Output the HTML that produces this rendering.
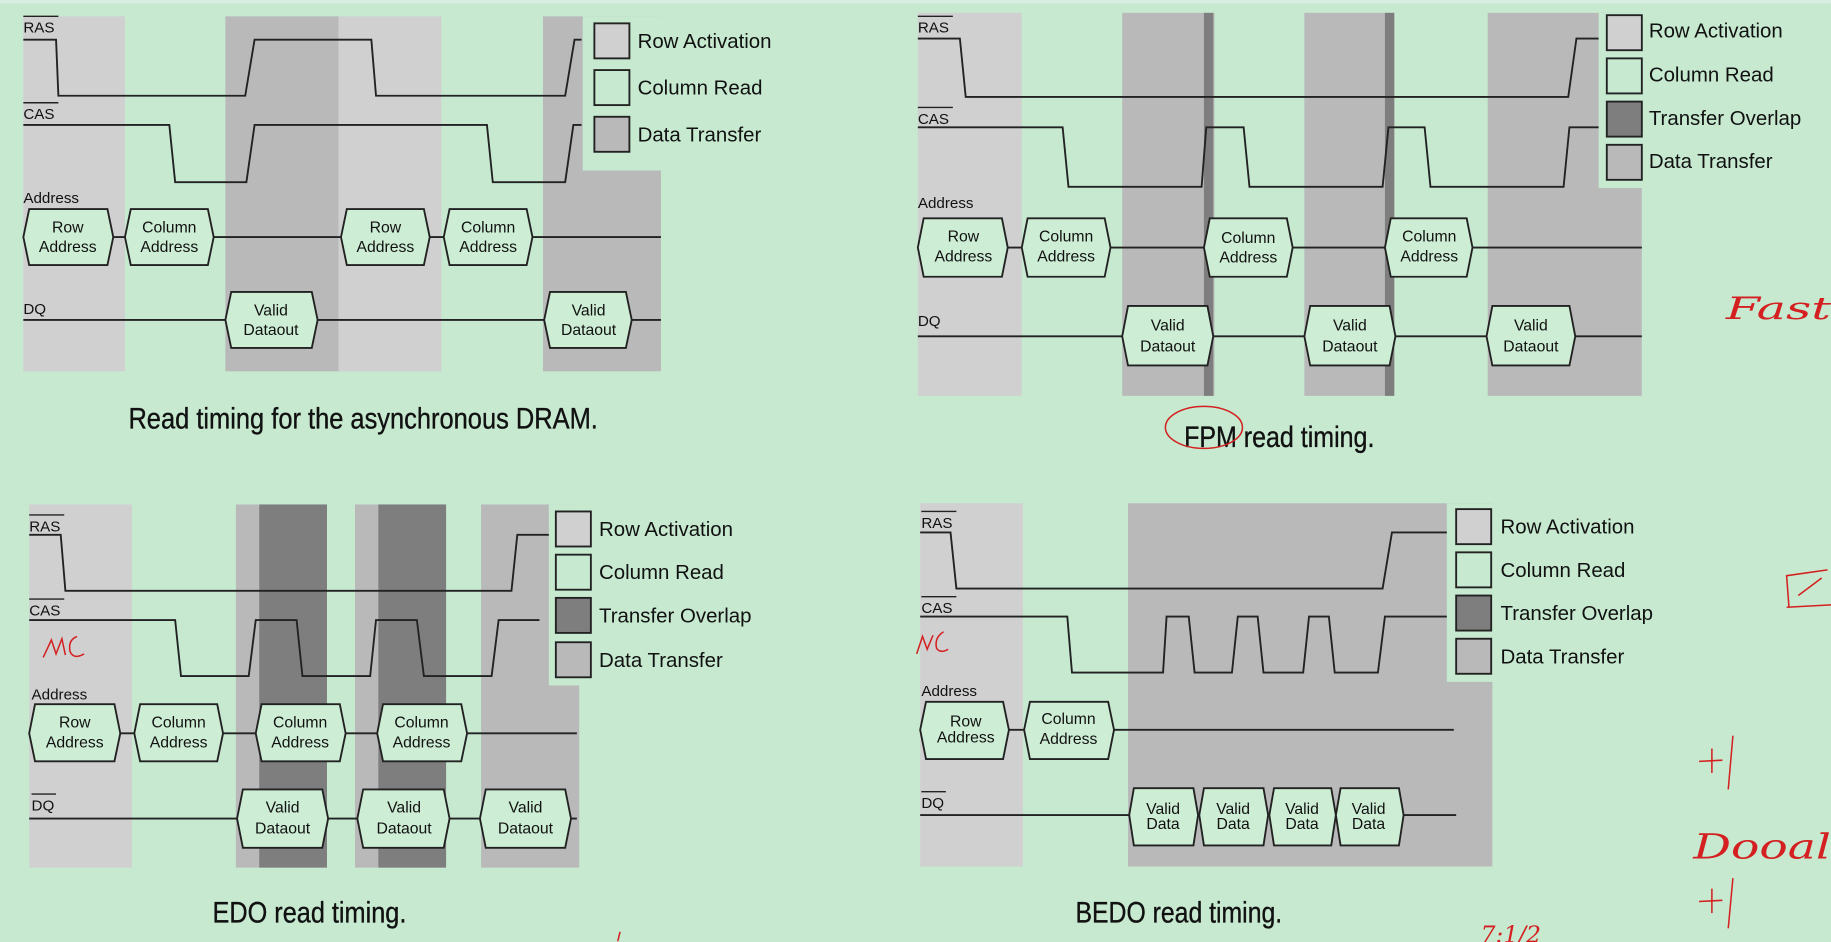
<!DOCTYPE html>
<html><head><meta charset="utf-8"><style>
html,body{margin:0;padding:0;background:#c6e9d0;}
svg{display:block}
text{font-family:"Liberation Sans",sans-serif;fill:#111}
.sig{font-size:13px}
.hx{font-size:13.5px;text-anchor:middle}
.lg{font-size:17.5px}
.cap{font-size:25px;stroke:#111;stroke-width:0.3}
.w{fill:none;stroke:#222;stroke-width:1.6}
.h{fill:#cdeed5;stroke:#222;stroke-width:1.6}
.la{fill:#d0d0d0}.da{fill:#b9b9b9}.ov{fill:#7e7e7e}
.box{stroke:#222;stroke-width:1.6}
.red{fill:none;stroke:#d42020;stroke-width:1.3}
.rt{fill:#d42020;font-family:"DejaVu Serif",serif;font-style:italic}
</style></head><body>
<svg width="1831" height="942" viewBox="0 0 1568 806.7" preserveAspectRatio="none">
<rect width="1568" height="807" fill="#c6e9d0"/>
<rect width="1568" height="3" fill="#d7eee0"/>

<!-- ===== Panel 1 ===== -->
<rect class="la" x="20" y="14" width="87" height="304"/>
<rect class="da" x="193" y="14" width="97" height="304"/>
<rect class="la" x="290" y="14" width="88" height="304"/>
<rect class="da" x="465" y="14" width="101" height="304"/>
<rect fill="#c6e9d0" x="499" y="14" width="69" height="132"/>
<text class="sig" x="20" y="28">RAS</text><line x1="20" y1="14" x2="50" y2="14" stroke="#222" stroke-width="1.2"/>
<polyline class="w" points="20,34 48,34 50,82 210,82 218,34 318,34 322,82 484,82 492,34 498,34"/>
<text class="sig" x="20" y="102">CAS</text><line x1="20" y1="88" x2="50" y2="88" stroke="#222" stroke-width="1.2"/>
<polyline class="w" points="20,107 145,107 150,156 211,156 218,107 417,107 422,156 484,156 491,107 498,107"/>
<text class="sig" x="20" y="174">Address</text>
<line class="w" x1="20" y1="203" x2="566" y2="203"/>
<polygon class="h" points="20,203 25,179 92,179 97,203 92,227 25,227"/><text class="hx" x="58" y="199">Row</text><text class="hx" x="58" y="216">Address</text>
<polygon class="h" points="107,203 112,179 178,179 183,203 178,227 112,227"/><text class="hx" x="145" y="199">Column</text><text class="hx" x="145" y="216">Address</text>
<polygon class="h" points="292,203 297,179 363,179 368,203 363,227 297,227"/><text class="hx" x="330" y="199">Row</text><text class="hx" x="330" y="216">Address</text>
<polygon class="h" points="380,203 385,179 451,179 456,203 451,227 385,227"/><text class="hx" x="418" y="199">Column</text><text class="hx" x="418" y="216">Address</text>
<text class="sig" x="20" y="269">DQ</text>
<line class="w" x1="20" y1="274" x2="566" y2="274"/>
<polygon class="h" points="193,274 198,250 267,250 272,274 267,298 198,298"/><text class="hx" x="232" y="270">Valid</text><text class="hx" x="232" y="287">Dataout</text>
<polygon class="h" points="466,274 471,250 536,250 541,274 536,298 471,298"/><text class="hx" x="504" y="270">Valid</text><text class="hx" x="504" y="287">Dataout</text>
<rect class="box la" x="509" y="20" width="30" height="30"/><rect class="box" fill="#c6e9d0" x="509" y="60" width="30" height="30"/><rect class="box da" x="509" y="100" width="30" height="30"/>
<text class="lg" x="546" y="41">Row Activation</text><text class="lg" x="546" y="81">Column Read</text><text class="lg" x="546" y="121">Data Transfer</text>
<text class="cap" x="110" y="367" textLength="402" lengthAdjust="spacingAndGlyphs">Read timing for the asynchronous DRAM.</text>

<!-- ===== Panel 2 FPM ===== -->
<rect class="la" x="786" y="11" width="89" height="328"/>
<rect class="da" x="961" y="11" width="79" height="328"/><rect class="ov" x="1031" y="11" width="8" height="328"/>
<rect class="da" x="1117" y="11" width="77" height="328"/><rect class="ov" x="1186" y="11" width="8" height="328"/>
<rect class="da" x="1274" y="11" width="132" height="328"/>
<rect fill="#c6e9d0" x="1369" y="11" width="40" height="150"/>
<text class="sig" x="786" y="28">RAS</text><line x1="786" y1="14" x2="816" y2="14" stroke="#222" stroke-width="1.2"/>
<polyline class="w" points="786,33 822,33 827,83 1343,83 1350,33 1369,33"/>
<text class="sig" x="786" y="106">CAS</text><line x1="786" y1="92" x2="816" y2="92" stroke="#222" stroke-width="1.2"/>
<polyline class="w" points="786,109 910,109 915,160 1029,160 1033,109 1065,109 1070,160 1184,160 1189,109 1220,109 1225,160 1339,160 1344,109 1369,109"/>
<text class="sig" x="786" y="178">Address</text>
<line class="w" x1="786" y1="212" x2="1406" y2="212"/>
<polygon class="h" points="786,212 791,187 858,187 863,212 858,237 791,237"/><text class="hx" x="825" y="207">Row</text><text class="hx" x="825" y="224">Address</text>
<polygon class="h" points="875,212 880,187 946,187 951,212 946,237 880,237"/><text class="hx" x="913" y="207">Column</text><text class="hx" x="913" y="224">Address</text>
<polygon class="h" points="1031,212 1036,187 1102,187 1107,212 1102,237 1036,237"/><text class="hx" x="1069" y="208">Column</text><text class="hx" x="1069" y="225">Address</text>
<polygon class="h" points="1186,212 1191,187 1256,187 1261,212 1256,237 1191,237"/><text class="hx" x="1224" y="207">Column</text><text class="hx" x="1224" y="224">Address</text>
<text class="sig" x="786" y="279">DQ</text>
<line class="w" x1="786" y1="288" x2="1406" y2="288"/>
<polygon class="h" points="961,288 966,262 1034,262 1039,288 1034,313 966,313"/><text class="hx" x="1000" y="283">Valid</text><text class="hx" x="1000" y="301">Dataout</text>
<polygon class="h" points="1117,288 1122,262 1190,262 1195,288 1190,313 1122,313"/><text class="hx" x="1156" y="283">Valid</text><text class="hx" x="1156" y="301">Dataout</text>
<polygon class="h" points="1273,288 1278,262 1344,262 1349,288 1344,313 1278,313"/><text class="hx" x="1311" y="283">Valid</text><text class="hx" x="1311" y="301">Dataout</text>
<rect class="box la" x="1376" y="13" width="30" height="30"/><rect class="box" fill="#c6e9d0" x="1376" y="50" width="30" height="30"/><rect class="box ov" x="1376" y="87" width="30" height="30"/><rect class="box da" x="1376" y="124" width="30" height="30"/>
<text class="lg" x="1412" y="32">Row Activation</text><text class="lg" x="1412" y="70">Column Read</text><text class="lg" x="1412" y="107">Transfer Overlap</text><text class="lg" x="1412" y="144">Data Transfer</text>
<text class="cap" x="1014" y="383" textLength="163" lengthAdjust="spacingAndGlyphs">FPM read timing.</text>
<ellipse class="red" cx="1031" cy="366" rx="33" ry="18"/>
<text class="rt" x="1478" y="273" font-size="26" textLength="90" lengthAdjust="spacingAndGlyphs">Fast</text>

<!-- ===== Panel 3 EDO ===== -->
<rect class="la" x="25" y="432" width="88" height="311"/>
<rect class="da" x="202" y="432" width="78" height="311"/><rect class="ov" x="222" y="432" width="58" height="311"/>
<rect class="da" x="304" y="432" width="78" height="311"/><rect class="ov" x="324" y="432" width="58" height="311"/>
<rect class="da" x="412" y="432" width="84" height="311"/>
<rect fill="#c6e9d0" x="470" y="432" width="30" height="155"/>
<text class="sig" x="25" y="455">RAS</text><line x1="25" y1="441" x2="55" y2="441" stroke="#222" stroke-width="1.2"/>
<polyline class="w" points="25,458 52,458 56,506 438,506 443,458 470,458"/>
<text class="sig" x="25" y="527">CAS</text><line x1="25" y1="513" x2="55" y2="513" stroke="#222" stroke-width="1.2"/>
<polyline class="w" points="25,531 150,531 155,579 213,579 219,531 254,531 259,579 317,579 322,531 357,531 363,579 421,579 427,531 462,531"/>
<text class="sig" x="27" y="599">Address</text>
<line class="w" x1="25" y1="628" x2="494" y2="628"/>
<polygon class="h" points="25,628 30,603 98,603 103,628 98,652 30,652"/><text class="hx" x="64" y="623">Row</text><text class="hx" x="64" y="640">Address</text>
<polygon class="h" points="115,628 120,603 186,603 191,628 186,652 120,652"/><text class="hx" x="153" y="623">Column</text><text class="hx" x="153" y="640">Address</text>
<polygon class="h" points="219,628 224,603 291,603 296,628 291,652 224,652"/><text class="hx" x="257" y="623">Column</text><text class="hx" x="257" y="640">Address</text>
<polygon class="h" points="323,628 328,603 395,603 400,628 395,652 328,652"/><text class="hx" x="361" y="623">Column</text><text class="hx" x="361" y="640">Address</text>
<text class="sig" x="27" y="694">DQ</text><line x1="27" y1="680" x2="48" y2="680" stroke="#222" stroke-width="1.2"/>
<line class="w" x1="25" y1="701" x2="494" y2="701"/>
<polygon class="h" points="203,701 208,676 276,676 281,701 276,726 208,726"/><text class="hx" x="242" y="696">Valid</text><text class="hx" x="242" y="714">Dataout</text>
<polygon class="h" points="306,701 311,676 380,676 385,701 380,726 311,726"/><text class="hx" x="346" y="696">Valid</text><text class="hx" x="346" y="714">Dataout</text>
<polygon class="h" points="411,701 416,676 484,676 489,701 484,726 416,726"/><text class="hx" x="450" y="696">Valid</text><text class="hx" x="450" y="714">Dataout</text>
<rect class="box la" x="476" y="438" width="30" height="30"/><rect class="box" fill="#c6e9d0" x="476" y="475" width="30" height="30"/><rect class="box ov" x="476" y="512" width="30" height="30"/><rect class="box da" x="476" y="550" width="30" height="30"/>
<text class="lg" x="513" y="459">Row Activation</text><text class="lg" x="513" y="496">Column Read</text><text class="lg" x="513" y="533">Transfer Overlap</text><text class="lg" x="513" y="571">Data Transfer</text>
<text class="cap" x="182" y="790" textLength="166" lengthAdjust="spacingAndGlyphs">EDO read timing.</text>
<path class="red" d="M37,563 L44,548 L48,560 L53,547 L56,561 M66,545 Q58,548 60,558 Q63,565 72,560"/>

<!-- ===== Panel 4 BEDO ===== -->
<rect class="la" x="788" y="431" width="88" height="311"/>
<rect class="da" x="966" y="431" width="312" height="311"/>
<rect fill="#c6e9d0" x="1239" y="431" width="42" height="153"/>
<text class="sig" x="789" y="452">RAS</text><line x1="789" y1="438" x2="819" y2="438" stroke="#222" stroke-width="1.2"/>
<polyline class="w" points="788,456 814,456 819,504 1184,504 1192,456 1239,456"/>
<text class="sig" x="789" y="525">CAS</text><line x1="789" y1="511" x2="819" y2="511" stroke="#222" stroke-width="1.2"/>
<polyline class="w" points="788,528 914,528 918,576 996,576 999,528 1018,528 1023,576 1055,576 1060,528 1077,528 1082,576 1116,576 1121,528 1138,528 1143,576 1180,576 1186,528 1239,528"/>
<text class="sig" x="789" y="596">Address</text>
<line class="w" x1="788" y1="625" x2="1245" y2="625"/>
<polygon class="h" points="788,625 793,601 859,601 864,625 859,650 793,650"/><text class="hx" x="827" y="622">Row</text><text class="hx" x="827" y="636">Address</text>
<polygon class="h" points="877,625 882,601 949,601 954,625 949,650 882,650"/><text class="hx" x="915" y="620">Column</text><text class="hx" x="915" y="637">Address</text>
<text class="sig" x="789" y="692">DQ</text><line x1="789" y1="678" x2="810" y2="678" stroke="#222" stroke-width="1.2"/>
<line class="w" x1="788" y1="698" x2="1247" y2="698"/>
<polygon class="h" points="967,698 971,675 1022,675 1026,698 1022,724 971,724"/><text class="hx" x="996" y="697">Valid</text><text class="hx" x="996" y="710">Data</text>
<polygon class="h" points="1027,698 1031,675 1082,675 1086,698 1082,724 1031,724"/><text class="hx" x="1056" y="697">Valid</text><text class="hx" x="1056" y="710">Data</text>
<polygon class="h" points="1087,698 1091,675 1140,675 1144,698 1140,724 1091,724"/><text class="hx" x="1115" y="697">Valid</text><text class="hx" x="1115" y="710">Data</text>
<polygon class="h" points="1144,698 1148,675 1198,675 1202,698 1198,724 1148,724"/><text class="hx" x="1172" y="697">Valid</text><text class="hx" x="1172" y="710">Data</text>
<rect class="box la" x="1247" y="436" width="30" height="30"/><rect class="box" fill="#c6e9d0" x="1247" y="473" width="30" height="30"/><rect class="box ov" x="1247" y="510" width="30" height="30"/><rect class="box da" x="1247" y="547" width="30" height="30"/>
<text class="lg" x="1285" y="457">Row Activation</text><text class="lg" x="1285" y="494">Column Read</text><text class="lg" x="1285" y="531">Transfer Overlap</text><text class="lg" x="1285" y="568">Data Transfer</text>
<text class="cap" x="921" y="790" textLength="177" lengthAdjust="spacingAndGlyphs">BEDO read timing.</text>
<path class="red" d="M785,560 L790,545 L794,556 L799,544 M808,541 Q800,546 802,555 Q805,560 812,556"/>
<path class="red" d="M1532,520 L1530,493 L1565,488 M1530,520 L1568,518 M1540,510 L1560,495"/>
<path class="red" d="M1455,652 L1475,651 M1466,641 L1466,662 M1484,630 L1480,676"/>
<path class="red" d="M1455,772 L1475,771 M1466,761 L1466,782 M1484,752 L1480,795"/>
<text class="rt" x="1450" y="735" font-size="30" textLength="118" lengthAdjust="spacingAndGlyphs">Dooal</text>
<text class="rt" x="1268" y="807" font-size="20">7:1/2</text>
<path class="red" d="M531,798 L529,806"/>
</svg>
</body></html>
